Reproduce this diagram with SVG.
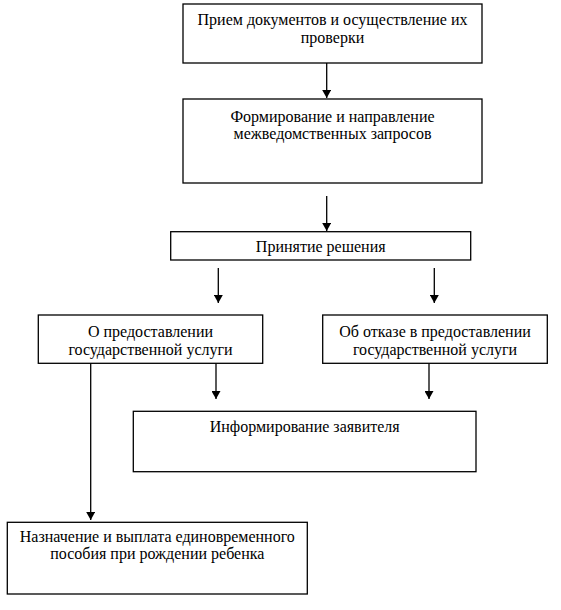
<svg xmlns="http://www.w3.org/2000/svg" width="561" height="610" viewBox="0 0 561 610">
<style>
.box{fill:#fff;stroke:#000;stroke-width:1.3}
text{font-family:'Liberation Serif','Times New Roman',serif;font-size:16px;fill:#000;text-anchor:middle}
.c{stroke:#000;stroke-width:1.3;fill:none;marker-end:url(#ah)}
</style>
<defs>
<marker id="ah" viewBox="0 0 8 9" refX="8" refY="4.5" markerWidth="8" markerHeight="9" markerUnits="userSpaceOnUse" orient="auto">
<path d="M0,0 L8,4.5 L0,9 Z" fill="#000"/>
</marker>
</defs>
<rect width="561" height="610" fill="#fff"/>
<g id="connectors">
<line class="c" x1="326.7" y1="63" x2="326.7" y2="98"/>
<line class="c" x1="326.7" y1="196" x2="326.7" y2="231"/>
<line class="c" x1="218.3" y1="268" x2="218.3" y2="303"/>
<line class="c" x1="434.3" y1="268" x2="434.3" y2="303"/>
<line class="c" x1="216" y1="363" x2="216" y2="399"/>
<line class="c" x1="429" y1="363" x2="429" y2="399"/>
<line class="c" x1="90.7" y1="363" x2="90.7" y2="520"/>
</g>
<g id="n1">
<rect class="box" x="183" y="4" width="299" height="59"/>
<text x="332.5" y="25">Прием документов и осуществление их</text>
<text x="332.5" y="43">проверки</text>
</g>
<g id="n2">
<rect class="box" x="183" y="99" width="299" height="84"/>
<text x="332.5" y="121.5">Формирование и направление</text>
<text x="332.5" y="138.5">межведомственных запросов</text>
</g>
<g id="n3">
<rect class="box" x="170.7" y="231.7" width="300" height="28.3"/>
<text x="320.7" y="251.5">Принятие решения</text>
</g>
<g id="n4">
<rect class="box" x="38.3" y="315" width="224.4" height="48.3"/>
<text x="150.5" y="336.5">О предоставлении</text>
<text x="150.5" y="355">государственной услуги</text>
</g>
<g id="n5">
<rect class="box" x="322.7" y="315" width="224.6" height="48.3"/>
<text x="435" y="336.5">Об отказе в предоставлении</text>
<text x="435" y="355">государственной услуги</text>
</g>
<g id="n6">
<rect class="box" x="133.3" y="411.3" width="342.7" height="60.4"/>
<text x="304.7" y="431.5">Информирование заявителя</text>
</g>
<g id="n7">
<rect class="box" x="7.3" y="522.3" width="300" height="71.7"/>
<text x="157.3" y="541.5">Назначение и выплата единовременного</text>
<text x="157.3" y="559">пособия при рождении ребенка</text>
</g>
</svg>
